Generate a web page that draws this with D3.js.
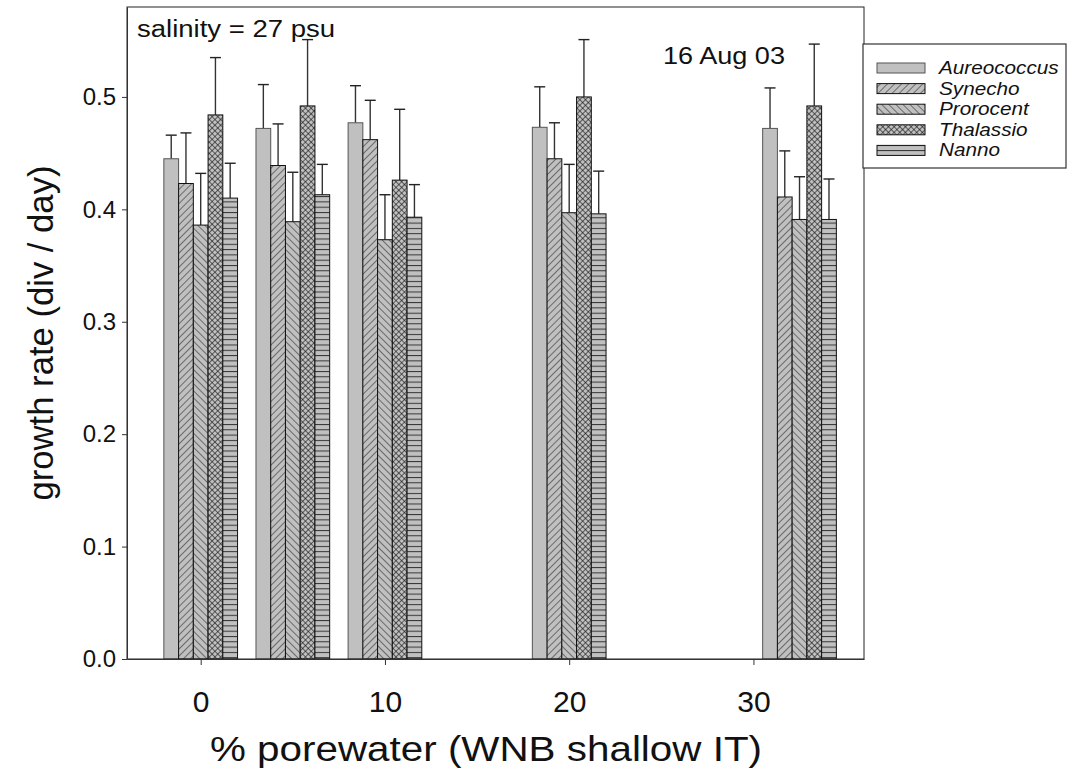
<!DOCTYPE html>
<html>
<head>
<meta charset="utf-8">
<script src="https://cdn.jsdelivr.net/npm/d3@7"></script>
<style>
  html, body { margin: 0; padding: 0; background: #fff; }
  svg { display: block; font-family: "Liberation Sans", Arial, Helvetica, sans-serif; }
</style>
</head>
<body>
<svg id="chart" width="1067" height="779"></svg>
<script>
// Growth rate by % porewater, 16 Aug 03, salinity 27 psu
const porewater = [0, 5, 10, 20, 32.5];
const species = ["Aureococcus", "Synecho", "Prorocent", "Thalassio", "Nanno"];

// mean growth rate (div/day) per species, one value per porewater level
const aureococcus = [0.445, 0.472, 0.477, 0.473, 0.472];
const synecho     = [0.423, 0.439, 0.462, 0.445, 0.411];
const prorocent   = [0.386, 0.389, 0.373, 0.397, 0.391];
const thalassio   = [0.484, 0.492, 0.426, 0.500, 0.492];
const nanno       = [0.410, 0.413, 0.393, 0.396, 0.391];

// upper error bar tips (mean + SD)
const aureococcusErr = [0.466, 0.511, 0.510, 0.509, 0.508];
const synechoErr     = [0.468, 0.476, 0.497, 0.477, 0.452];
const prorocentErr   = [0.432, 0.433, 0.413, 0.440, 0.429];
const thalassioErr   = [0.535, 0.551, 0.489, 0.551, 0.547];
const nannoErr       = [0.441, 0.440, 0.422, 0.434, 0.427];

const xTicks = [0, 10, 20, 30];
const yTicks = [0, 0.1, 0.2, 0.3, 0.4, 0.5];

const means = [aureococcus, synecho, prorocent, thalassio, nanno];
const errs = [aureococcusErr, synechoErr, prorocentErr, thalassioErr, nannoErr];

const svg = d3.select("#chart");
const margin = { left: 127, right: 203, top: 7, bottom: 120 };
const W = 1067, H = 779;

const x = d3.scaleLinear().domain([-4, 36]).range([margin.left, W - margin.right]);
const y = d3.scaleLinear().domain([0, 0.58]).range([H - margin.bottom, margin.top]);

const barW = 0.8; // width of one bar in x units
const groupW = barW * species.length;

// fill patterns
const defs = svg.append("defs");
const GRAY = "#c0c0c0";

function pat(id, size, draw, rotate) {
  const p = defs.append("pattern")
    .attr("id", id)
    .attr("patternUnits", "userSpaceOnUse")
    .attr("width", size).attr("height", size);
  if (rotate) p.attr("patternTransform", `rotate(${rotate})`);
  p.append("rect").attr("width", size).attr("height", size).attr("fill", GRAY);
  draw(p, size);
}
pat("p-syn", 5, (p, s) => p.append("line").attr("x1", 0).attr("y1", 0).attr("x2", 0).attr("y2", s)
  .attr("stroke", "#222").attr("stroke-width", 1.1), 45);
pat("p-pro", 5, (p, s) => p.append("line").attr("x1", 0).attr("y1", 0).attr("x2", 0).attr("y2", s)
  .attr("stroke", "#222").attr("stroke-width", 1.1), -45);
pat("p-tha", 4, (p, s) => {
  p.append("line").attr("x1", 0).attr("y1", 0).attr("x2", 0).attr("y2", s).attr("stroke", "#111").attr("stroke-width", 1.2);
  p.append("line").attr("x1", 0).attr("y1", 0).attr("x2", s).attr("y2", 0).attr("stroke", "#111").attr("stroke-width", 1.2);
}, 45);
pat("p-nan", 5.3, (p, s) => p.append("line").attr("x1", 0).attr("y1", 0.5).attr("x2", s).attr("y2", 0.5)
  .attr("stroke", "#333").attr("stroke-width", 1));

const fills = [GRAY, "url(#p-syn)", "url(#p-pro)", "url(#p-tha)", "url(#p-nan)"];
const outlines = ["#555", "#111", "#111", "#111", "#111"];

// bars with upper error bars
species.forEach((sp, si) => {
  const g = svg.append("g").attr("class", "series");
  porewater.forEach((pw, i) => {
    const x0 = pw - groupW / 2 + si * barW;
    const cx = x(x0 + barW / 2);
    g.append("line")
      .attr("x1", cx).attr("x2", cx)
      .attr("y1", y(means[si][i])).attr("y2", y(errs[si][i]))
      .attr("stroke", "#333").attr("stroke-width", 1.4);
    g.append("line")
      .attr("x1", cx - 5.5).attr("x2", cx + 5.5)
      .attr("y1", y(errs[si][i])).attr("y2", y(errs[si][i]))
      .attr("stroke", "#222").attr("stroke-width", 1.4);
    g.append("rect")
      .attr("x", x(x0)).attr("width", x(x0 + barW) - x(x0))
      .attr("y", y(means[si][i])).attr("height", y(0) - y(means[si][i]))
      .attr("fill", fills[si]).attr("stroke", outlines[si]).attr("stroke-width", 1);
  });
});

// frame
svg.append("rect")
  .attr("x", margin.left).attr("y", margin.top)
  .attr("width", W - margin.right - margin.left).attr("height", y(0) - margin.top)
  .attr("fill", "none").attr("stroke", "#222").attr("stroke-width", 1);

// axes
const xAxis = svg.append("g").attr("transform", `translate(0,${y(0)})`)
  .call(d3.axisBottom(x).tickValues(xTicks).tickSize(6).tickSizeOuter(0).tickPadding(26).tickFormat(d3.format("d")));
const yAxis = svg.append("g").attr("transform", `translate(${margin.left},0)`)
  .call(d3.axisLeft(y).tickValues(yTicks).tickSize(5).tickSizeOuter(0).tickPadding(6).tickFormat(d3.format(".1f")));
[xAxis, yAxis].forEach(a => {
  a.select(".domain").attr("stroke", "#333");
  a.selectAll(".tick line").attr("stroke", "#333");
  a.selectAll(".tick text").attr("fill", "#111")
    .attr("font-family", '"Liberation Sans", Arial, sans-serif');
});
xAxis.selectAll(".tick text").attr("font-size", 30);
yAxis.selectAll(".tick text").attr("font-size", 24);

// axis titles
svg.append("text")
  .attr("x", 486).attr("y", 761)
  .attr("text-anchor", "middle").attr("font-size", 35).attr("fill", "#111")
  .attr("textLength", 552).attr("lengthAdjust", "spacingAndGlyphs")
  .text("% porewater (WNB shallow IT)");
svg.append("text")
  .attr("transform", `translate(53,${(margin.top + y(0)) / 2}) rotate(-90)`)
  .attr("text-anchor", "middle").attr("font-size", 35).attr("fill", "#111")
  .attr("textLength", 335).attr("lengthAdjust", "spacingAndGlyphs")
  .text("growth rate (div / day)");

// annotations
svg.append("text").attr("x", 137).attr("y", 37).attr("font-size", 23).attr("fill", "#111")
  .attr("textLength", 198).attr("lengthAdjust", "spacingAndGlyphs")
  .text("salinity = 27 psu");
svg.append("text").attr("x", 663).attr("y", 64).attr("font-size", 23).attr("fill", "#111")
  .attr("textLength", 122).attr("lengthAdjust", "spacingAndGlyphs")
  .text("16 Aug 03");

// legend
const lg = svg.append("g").attr("transform", "translate(863,44)");
lg.append("rect").attr("x", 0).attr("y", 0).attr("width", 203).attr("height", 124)
  .attr("fill", "#fff").attr("stroke", "#333").attr("stroke-width", 1.2);
species.forEach((sp, si) => {
  const yy = 19 + si * 20.6;
  lg.append("rect").attr("x", 14).attr("y", yy).attr("width", 48).attr("height", 10)
    .attr("fill", fills[si]).attr("stroke", outlines[si]).attr("stroke-width", 1);
  const t = lg.append("text").attr("x", 76).attr("y", yy + 11).attr("font-size", 18)
    .attr("font-style", "italic").attr("fill", "#111").text(sp);
  // slightly wide lettering
  const len = t.node().getComputedTextLength();
  t.attr("textLength", len * 1.15).attr("lengthAdjust", "spacingAndGlyphs");
});
</script>
</body>
</html>
